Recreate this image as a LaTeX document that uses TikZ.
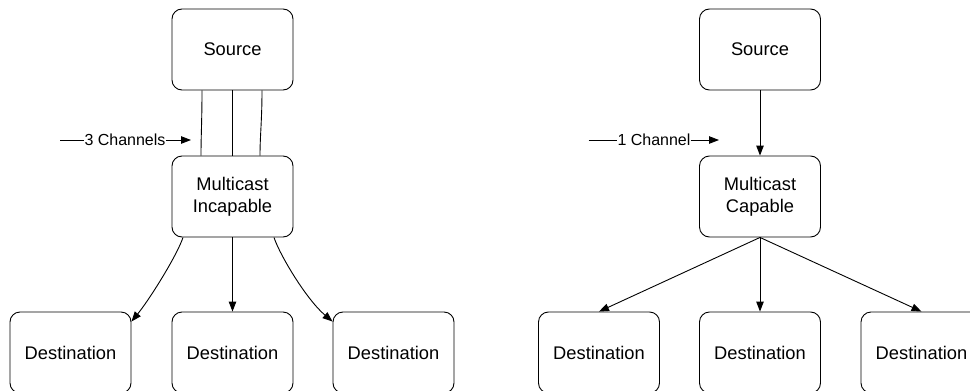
\documentclass[tikz,border=0pt]{standalone}
\usepackage{fontspec}
\setmainfont{Liberation Sans}
\usetikzlibrary{arrows.meta}
\begin{document}
\begin{tikzpicture}[x=1pt,y=-1pt,
  box/.style={draw,line width=0.9pt,rounded corners=10pt,minimum width=121pt,minimum height=81pt,
    inner sep=0pt,align=center,font=\fontsize{18.3}{22}\selectfont},
  lbl/.style={inner sep=0pt,font=\fontsize{16}{19}\selectfont},
  conn/.style={line width=0.9pt},
  arr/.style={conn,-{Triangle[length=10pt,width=7.5pt]}}]
\useasboundingbox (0,0) rectangle (970,391);

% multicast-incapable network
\node[box] (srcA) at (232.5,49.5) {Source};
\node[box] (mcA) at (232.5,196.5) {Multicast\\Incapable};
\node[box] (dA1) at (70.5,352.5) {Destination};
\node[box] (dA2) at (232.5,352.5) {Destination};
\node[box] (dA3) at (393.5,352.5) {Destination};

\draw[conn] ([xshift=-30.5pt]srcA.south) .. controls +(0,30) and +(0,-20) .. ([xshift=-31.5pt]mcA.north);
\draw[conn] (srcA.south) -- (mcA.north);
\draw[conn] ([xshift=29.5pt]srcA.south) .. controls +(0,30) and +(0,-20) .. ([xshift=27.5pt]mcA.north);

\node[lbl] (chA) at (125,140) {3 Channels};
\coordinate (chAl) at (60,140);
\coordinate (chAr) at (191,140);
\draw[conn] (chAl) -- (chA.west);
\draw[arr] (chA.east) -- (chAr);

\draw[arr] ([xshift=-49.5pt]mcA.south) .. controls +(-6,18) and +(18,-22) .. ([yshift=-10pt]dA1.north east);
\draw[arr] (mcA.south) -- (dA2.north);
\draw[arr] ([xshift=41.5pt]mcA.south) .. controls +(6,18) and +(-26,-22) .. ([yshift=-10pt]dA3.north west);

% multicast-capable network
\node[box] (srcB) at (760,49.5) {Source};
\node[box] (mcB) at (760,196.5) {Multicast\\Capable};
\node[box] (dB1) at (599,352.5) {Destination};
\node[box] (dB2) at (760,352.5) {Destination};
\node[box] (dB3) at (921.5,352.5) {Destination};

\draw[arr] (srcB.south) -- (mcB.north);

\node[lbl] (chB) at (654,140) {1 Channel};
\coordinate (chBl) at (588.7,140);
\coordinate (chBr) at (719,140);
\draw[conn] (chBl) -- (chB.west);
\draw[arr] (chB.east) -- (chBr);

\draw[arr] (mcB.south) -- (dB1.north);
\draw[arr] (mcB.south) -- (dB2.north);
\draw[arr] (mcB.south) -- (dB3.north);
\end{tikzpicture}
\end{document}
